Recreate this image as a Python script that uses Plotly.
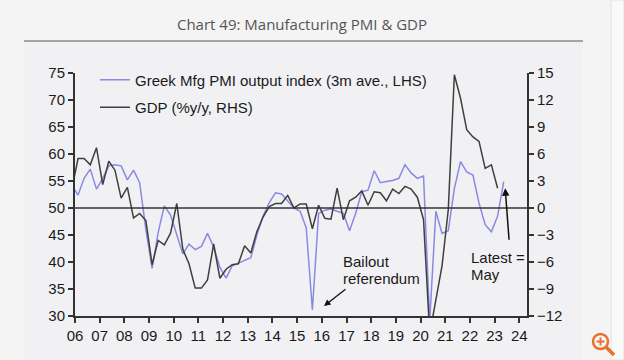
import pandas as pd
import plotly.graph_objects as go

# ---------------- data ----------------
quarters = pd.period_range("2005Q4", "2023Q2", freq="Q")
gdp = [2.1,
       5.5, 5.5, 4.8, 6.7,
       2.6, 5.2, 4.2, 1.1,
       2.3, -1.1, -0.6, -1.4,
       -6.3, -3.6, -4.1, -2.8,
       0.5, -4.6, -6.2, -8.9,
       -8.9, -8.0, -4.0, -7.8,
       -6.8, -6.3, -6.2, -4.2,
       -5.0, -2.6, -1.0, 0.15,
       0.5, 0.5, 1.4, 0.0,
       0.45, 0.45, -2.3, 0.3,
       -1.15, -1.25, 2.2, -1.3,
       0.8, 1.2, 1.9, 0.3,
       1.8, 1.7, 0.8, 2.1,
       1.6, 2.4, 2.1, 1.2,
       -1.3, -14.0, -10.0, -6.4,
       -0.2, 14.8, 12.2, 8.7,
       7.9, 7.4, 4.4, 4.8,
       2.2, None]
pmi = [54.2,
       52.4, 55.5, 57.2, 53.5,
       55.5, 57.8, 58.0, 57.8,
       55.2, 57.0, 54.7, 46.0,
       38.8, 45.5, 50.4, 48.7,
       45.0, 41.5, 43.3, 42.3,
       42.9, 45.3, 42.8, 39.0,
       37.0, 39.3, 39.8, 40.3,
       40.8, 45.0, 48.5, 51.0,
       52.8, 52.6, 51.3, 50.0,
       49.4, 46.3, 31.1, 49.0,
       49.6, 49.8, 49.4, 49.0,
       45.8, 49.0, 53.0, 53.3,
       56.9, 54.7, 54.9, 55.1,
       55.5, 58.0, 56.5, 55.5,
       55.9, 29.0, 49.4, 45.3,
       45.8, 53.6, 58.6, 56.7,
       56.1, 50.9, 46.9, 45.6,
       48.5, 54.9]
left_ticks = [30, 35, 40, 45, 50, 55, 60, 65, 70, 75]
right_ticks = [-12, -9, -6, -3, 0, 3, 6, 9, 12, 15]
year_ticks = [str(y) for y in range(2006, 2025)]
year_labels = [f"{y % 100:02d}" for y in range(2006, 2025)]

dates = quarters.to_timestamp(how="start") + pd.Timedelta(days=45)

PMI_COLOR = "#8a8ae2"
GDP_COLOR = "#3f3f3f"
AX_COLOR = "#333333"
TXT = "#1a1a1a"
FONT = "Liberation Sans, Arial, sans-serif"

# plot area in pixels
L, R, T, B = 75, 527, 73, 316
W, H = 624, 360
def px(xp):
    return (xp - L) / (R - L)
def py(yp):
    return (B - yp) / (B - T)

fig = go.Figure()
fig.add_trace(go.Scatter(x=dates, y=pmi, mode="lines", name="Greek Mfg PMI output index (3m ave., LHS)",
                         line=dict(color=PMI_COLOR, width=1.5), legendgroup="a"))
fig.add_trace(go.Scatter(x=dates, y=gdp, mode="lines", name="GDP (%y/y, RHS)", yaxis="y2",
                         line=dict(color=GDP_COLOR, width=1.5), legendgroup="b", connectgaps=False))

axis_common = dict(showgrid=False, zeroline=False, showline=True, linecolor=AX_COLOR, linewidth=2,
                   ticks="outside", ticklen=5, tickwidth=1.5, tickcolor=AX_COLOR,
                   tickfont=dict(family=FONT, size=15, color=TXT))

fig.update_layout(
    width=W, height=H,
    margin=dict(l=L, r=W - R, t=T, b=H - B),
    paper_bgcolor="#f4f4f5",
    plot_bgcolor="#f1f1f4",
    showlegend=True,
    legend=dict(x=px(95), y=py(63.5), xanchor="left", yanchor="top", bgcolor="rgba(0,0,0,0)",
                font=dict(family=FONT, size=15, color=TXT), tracegroupgap=5,
                itemwidth=30),
    title=dict(text="Chart 49: Manufacturing PMI & GDP", x=302 / W, xref="container", xanchor="center",
               y=1 - 25 / H, yref="container", yanchor="middle",
               font=dict(family="Open Sans, sans-serif", size=15, color="#555555")),
    xaxis=dict(type="date", range=["2006-01-01", "2024-04-25"], tickvals=year_ticks, ticktext=year_labels,
               **axis_common),
    yaxis=dict(range=[30, 75], tickvals=left_ticks, **axis_common),
    yaxis2=dict(range=[-12, 15], tickvals=right_ticks, overlaying="y", side="right", **axis_common),
)

shapes = [
    # panel background
    dict(type="rect", xref="paper", yref="paper", x0=px(24), x1=px(583), y0=py(360), y1=py(41),
         fillcolor="#f1f1f4", line=dict(width=0), layer="below"),
    # right page strip
    dict(type="rect", xref="paper", yref="paper", x0=px(611), x1=px(624), y0=py(360), y1=py(0),
         fillcolor="#f9f9f9", line=dict(color="#e2e2e2", width=1), layer="below"),
    # title rule
    dict(type="line", xref="paper", yref="paper", x0=px(24), x1=px(583), y0=py(41), y1=py(41),
         line=dict(color="#8a8a90", width=1.5)),
    # 50 / 0 line
    dict(type="line", xref="paper", yref="y", x0=0, x1=1, y0=50, y1=50,
         line=dict(color=AX_COLOR, width=1.5)),
    # magnifier icon
    dict(type="circle", xref="paper", yref="paper", x0=px(593), x1=px(608), y0=py(349), y1=py(334),
         line=dict(color="#e8722c", width=2.5)),
    dict(type="line", xref="paper", yref="paper", x0=px(606), x1=px(614), y0=py(347), y1=py(355),
         line=dict(color="#e8722c", width=3.5)),
    dict(type="line", xref="paper", yref="paper", x0=px(596.5), x1=px(604.5), y0=py(341.5), y1=py(341.5),
         line=dict(color="#e8722c", width=2)),
    dict(type="line", xref="paper", yref="paper", x0=px(600.5), x1=px(600.5), y0=py(337.5), y1=py(345.5),
         line=dict(color="#e8722c", width=2)),
]
fig.update_layout(shapes=shapes)

ann_font = dict(family=FONT, size=15, color=TXT)
annotations = [
    dict(text="Bailout", xref="paper", yref="paper", x=px(341), y=py(261), xanchor="left", yanchor="middle",
         showarrow=False, font=ann_font),
    dict(text="referendum", xref="paper", yref="paper", x=px(341), y=py(278), xanchor="left", yanchor="middle",
         showarrow=False, font=ann_font),
    dict(text="Latest =", xref="paper", yref="paper", x=px(469), y=py(257), xanchor="left", yanchor="middle",
         showarrow=False, font=ann_font),
    dict(text="May", xref="paper", yref="paper", x=px(469), y=py(274), xanchor="left", yanchor="middle",
         showarrow=False, font=ann_font),
    # arrows
    dict(text="", xref="x", yref="y", x="2016-02-03", y=31.85, ax=23, ay=-18, showarrow=True,
         arrowhead=2, arrowsize=1, arrowwidth=1.3, arrowcolor="#111111", standoff=0),
    dict(text="", xref="x", yref="y2", x="2023-06-07", y=2.2, ax=4, ay=53, showarrow=True,
         arrowhead=2, arrowsize=1, arrowwidth=1.5, arrowcolor="#111111", standoff=0),
]
fig.update_layout(annotations=annotations)

fig.write_html("out.html", config={"displayModeBar": False},
               post_script="document.body.style.margin='0';document.body.style.background='#f4f4f5';")
